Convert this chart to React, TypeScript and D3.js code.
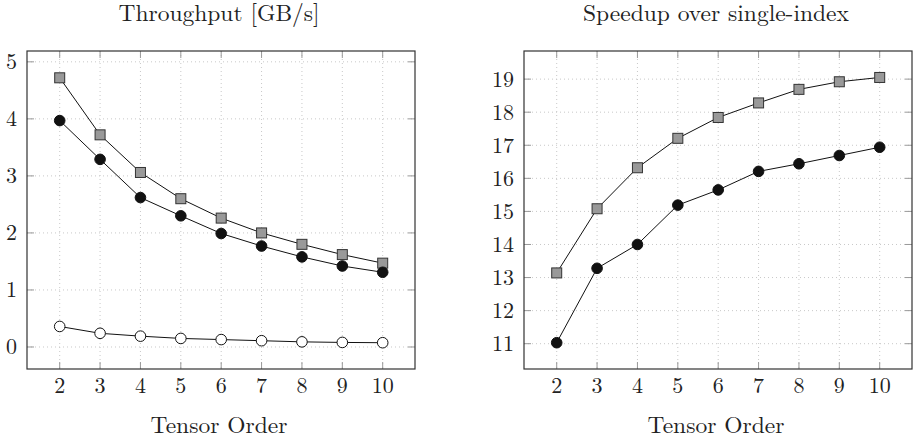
import React from 'react';
import * as d3 from 'd3';

const orders = [2, 3, 4, 5, 6, 7, 8, 9, 10];
const throughputSquare = [4.72, 3.72, 3.06, 2.60, 2.26, 2.0, 1.80, 1.62, 1.47];
const throughputFilled = [3.97, 3.29, 2.62, 2.30, 1.99, 1.77, 1.58, 1.42, 1.31];
const throughputOpen = [0.36, 0.24, 0.19, 0.15, 0.13, 0.11, 0.09, 0.08, 0.075];
const speedupSquare = [13.14, 15.08, 16.32, 17.21, 17.84, 18.28, 18.69, 18.92, 19.05];
const speedupFilled = [11.03, 13.28, 14.0, 15.19, 15.65, 16.21, 16.44, 16.69, 16.94];
const leftTicks = [0, 1, 2, 3, 4, 5];
const rightTicks = [11, 12, 13, 14, 15, 16, 17, 18, 19];

const FONT = '"Latin Modern Roman", serif';

type Series = { values: number[]; marker: 'square' | 'filled' | 'open' };

function Panel(props: {
    x0: number; x1: number; y0: number; y1: number;
    yDomain: [number, number]; yTicks: number[]; title: string; series: Series[];
}) {
    const { x0, x1, y0, y1 } = props;
    const x = d3.scaleLinear().domain([1.19, 10.8]).range([x0, x1]);
    const y = d3.scaleLinear().domain(props.yDomain).range([y1, y0]);
    const line = d3.line<number>().x((d, i) => x(orders[i])).y(d => y(d));
    const tick = 7;
    const cx = (x0 + x1) / 2;
    const txt = { fontFamily: FONT, fill: '#222' };
    return (
        <g>
            <text x={cx - 2} y={21} textAnchor="middle" style={{ ...txt, fontSize: 23.5 }}>{props.title}</text>
            {/* grid */}
            {orders.map(o => (
                <line key={'gx' + o} x1={x(o)} x2={x(o)} y1={y0} y2={y1} stroke="#c8c8c8" strokeDasharray="1,3" />
            ))}
            {props.yTicks.map(t => (
                <line key={'gy' + t} x1={x0} x2={x1} y1={y(t)} y2={y(t)} stroke="#c8c8c8" strokeDasharray="1,3" />
            ))}
            {/* ticks */}
            {orders.map(o => (
                <g key={'tx' + o}>
                    <line x1={x(o)} x2={x(o)} y1={y1} y2={y1 - tick} stroke="#999" />
                    <line x1={x(o)} x2={x(o)} y1={y0} y2={y0 + tick} stroke="#999" />
                    <text x={x(o)} y={y1 + 24} textAnchor="middle" style={{ ...txt, fontSize: 22 }}>{o}</text>
                </g>
            ))}
            {props.yTicks.map(t => (
                <g key={'ty' + t}>
                    <line x1={x0} x2={x0 + tick} y1={y(t)} y2={y(t)} stroke="#999" />
                    <line x1={x1} x2={x1 - tick} y1={y(t)} y2={y(t)} stroke="#999" />
                    <text x={x0 - 10} y={y(t) + 7.5} textAnchor="end" style={{ ...txt, fontSize: 22 }}>{t}</text>
                </g>
            ))}
            <rect x={x0} y={y0} width={x1 - x0} height={y1 - y0} fill="none" stroke="#333" strokeWidth={1.2} />
            {props.series.map((s, si) => (
                <g key={'s' + si}>
                    <path d={line(s.values) || ''} fill="none" stroke="#111" strokeWidth={1} />
                    {s.values.map((v, i) => s.marker === 'square' ? (
                        <rect key={i} x={x(orders[i]) - 5} y={y(v) - 5} width={10} height={10} fill="#999" stroke="#333" strokeWidth={1} />
                    ) : (
                        <circle key={i} cx={x(orders[i])} cy={y(v)} r={5.3}
                            fill={s.marker === 'filled' ? '#111' : '#fff'} stroke="#111" strokeWidth={1} />
                    ))}
                </g>
            ))}
            <text x={cx - 2} y={433} textAnchor="middle" style={{ ...txt, fontSize: 23.5 }}>Tensor Order</text>
        </g>
    );
}

export default function App() {
    return (
        <svg width={916} height={440} style={{ position: 'absolute', left: 0, top: 0, background: '#fff' }}>
            <Panel x0={27} x1={415} y0={51} y1={369} yDomain={[-0.386, 5.19]} yTicks={leftTicks}
                title="Throughput [GB/s]"
                series={[
                    { values: throughputSquare, marker: 'square' },
                    { values: throughputFilled, marker: 'filled' },
                    { values: throughputOpen, marker: 'open' },
                ]} />
            <Panel x0={524} x1={912} y0={51} y1={369} yDomain={[10.235, 19.85]} yTicks={rightTicks}
                title="Speedup over single-index"
                series={[
                    { values: speedupSquare, marker: 'square' },
                    { values: speedupFilled, marker: 'filled' },
                ]} />
        </svg>
    );
}
